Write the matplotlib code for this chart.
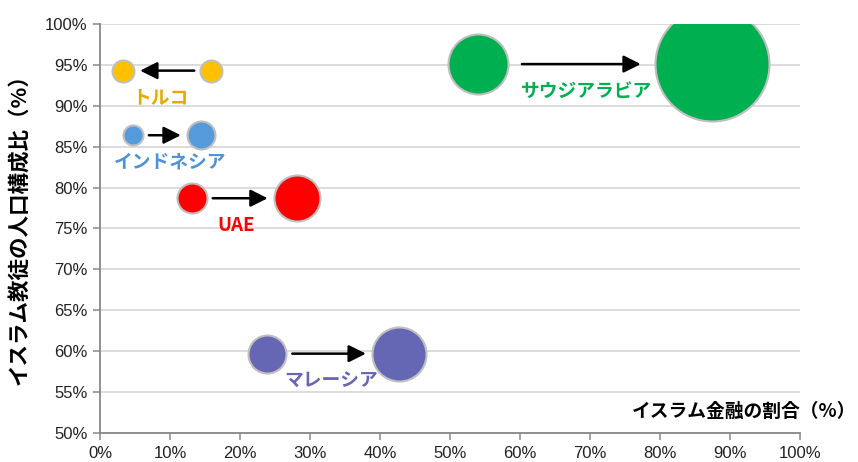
import matplotlib
matplotlib.use("Agg")
import matplotlib.pyplot as plt
from matplotlib.ticker import MultipleLocator, FuncFormatter

# Data: share of Islamic finance (x, %) before/after, Muslim population share (y, %)
countries = ["トルコ", "インドネシア", "UAE", "マレーシア", "サウジアラビア"]
finance_before = [15.9, 4.7, 13.1, 23.9, 54.0]
finance_after = [3.3, 14.4, 28.1, 42.7, 87.4]
muslim_share = [94.3, 86.4, 78.7, 59.7, 95.1]
bubble_before = [121, 100, 225, 361, 900]
bubble_after = [121, 196, 529, 729, 3249]

fill_colors = ["#FFC000", "#559BDB", "#FF0000", "#6667B4", "#00B050"]
text_colors = ["#E8A800", "#4F93D6", "#FF0000", "#6666B3", "#00B050"]
label_dx = [-7, 3, -8, -2, -8]   # horizontal label nudge, pixels

JP = ["Noto Sans CJK JP", "DejaVu Sans"]
NUM = ["Liberation Sans", "DejaVu Sans"]

W, H, DPI = 858, 462, 100
fig = plt.figure(figsize=(W / DPI, H / DPI), dpi=DPI)
ax = fig.add_axes([100 / W, (H - 433) / H, 700 / W, 409 / H])

ax.set_xlim(0, 100)
ax.set_ylim(50, 100)
ax.xaxis.set_major_locator(MultipleLocator(10))
ax.yaxis.set_major_locator(MultipleLocator(5))
pct = FuncFormatter(lambda v, _: f"{v:.0f}%")
ax.xaxis.set_major_formatter(pct)
ax.yaxis.set_major_formatter(pct)

ax.grid(axis="y", color="#D9D9D9", lw=1.3, zorder=0)
ax.set_axisbelow(True)
for s in ("top", "right"):
    ax.spines[s].set_visible(False)
for s in ("left", "bottom"):
    ax.spines[s].set_color("#888888")
    ax.spines[s].set_linewidth(1.3)
ax.tick_params(axis="both", direction="out", color="#888888", width=1.1,
               length=5, labelsize=12, labelcolor="#222222", pad=4)
for lab in ax.get_xticklabels() + ax.get_yticklabels():
    lab.set_family(NUM)

px2pt = 72 / DPI


def radius_px(size):
    return size ** 0.5


for i, name in enumerate(countries):
    y = muslim_share[i]
    rb, ra = radius_px(bubble_before[i]), radius_px(bubble_after[i])
    for xv, r in ((finance_before[i], rb), (finance_after[i], ra)):
        ax.scatter([xv], [y], s=(2 * r * px2pt) ** 2, color=fill_colors[i],
                   edgecolors="#BFBFBF", linewidths=1.5, zorder=3)
    gap = 6 if i < 4 else 14
    ax.annotate("", xy=(finance_after[i], y), xytext=(finance_before[i], y),
                arrowprops=dict(arrowstyle="-|>", color="black", lw=1.8,
                                mutation_scale=26,
                                shrinkA=(rb + gap) * px2pt,
                                shrinkB=(ra + gap) * px2pt),
                zorder=4)
    xm = (finance_before[i] + finance_after[i]) / 2
    ax.annotate(name, xy=(xm, y), xytext=(label_dx[i] * px2pt, -27 * px2pt),
                textcoords="offset points", ha="center", va="center",
                fontsize=13.5, fontweight="bold", color=text_colors[i],
                family=JP, zorder=5)

fig.text(20 / W, 1 - 224 / H, "イスラム教徒の人口構成比（%）", rotation=90,
         ha="center", va="center", fontsize=15.5, fontweight="bold",
         family=JP, color="black")
fig.text(856 / W, 1 - 411 / H, "イスラム金融の割合（%）", ha="right",
         va="center", fontsize=13.5, fontweight="bold", family=JP,
         color="black")

fig.savefig("out.png", dpi=DPI, facecolor="white")
